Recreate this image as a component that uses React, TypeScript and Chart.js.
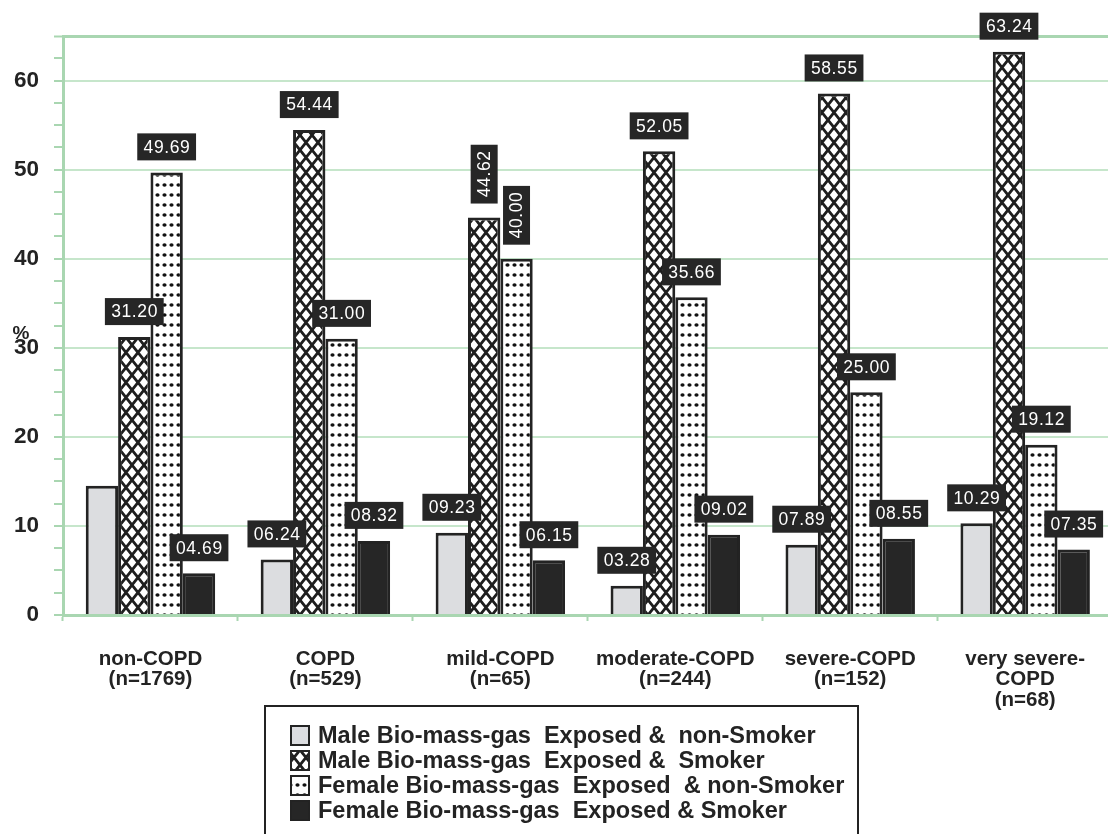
import React, { useEffect, useRef } from 'react';
import { Chart, registerables } from 'chart.js';

Chart.register(...registerables);

// ---------- data ----------
const categories: string[][] = [
  ['non-COPD', '(n=1769)'],
  ['COPD', '(n=529)'],
  ['mild-COPD', '(n=65)'],
  ['moderate-COPD', '(n=244)'],
  ['severe-COPD', '(n=152)'],
  ['very severe-', 'COPD', '(n=68)'],
];

const seriesNames = [
  'Male Bio-mass-gas  Exposed &  non-Smoker',
  'Male Bio-mass-gas  Exposed &  Smoker',
  'Female Bio-mass-gas  Exposed  & non-Smoker',
  'Female Bio-mass-gas  Exposed & Smoker',
];

const maleNonSmoker = [14.5, 6.24, 9.23, 3.28, 7.89, 10.29];
const maleSmoker = [31.2, 54.44, 44.62, 52.05, 58.55, 63.24];
const femaleNonSmoker = [49.69, 31.0, 40.0, 35.66, 25.0, 19.12];
const femaleSmoker = [4.69, 8.32, 6.15, 9.02, 8.55, 7.35];

const yMax = 65;
const yStep = 2.5;
const yLabelEvery = 10;

// [seriesIndex, categoryIndex]
const unlabeled: number[][] = [[0, 0]];
const rotatedLabels: number[][] = [[1, 2], [2, 2]];

// ---------- styles ----------
const FONT = '"Liberation Sans", Arial, sans-serif';
const axisGreen = '#a9d6b1';
const gridGreen = '#c6e6cb';
const ink = '#232323';

function makeCrossPattern(): CanvasPattern | string {
  const c = document.createElement('canvas');
  const w = 12, h = 15;
  c.width = w; c.height = h;
  const g = c.getContext('2d')!;
  g.fillStyle = '#ffffff';
  g.fillRect(0, 0, w, h);
  g.strokeStyle = '#1e1e1e';
  g.lineWidth = 2.8;
  g.beginPath();
  g.moveTo(-w, -h); g.lineTo(2 * w, 2 * h);
  g.moveTo(2 * w, -h); g.lineTo(-w, 2 * h);
  g.stroke();
  return g.createPattern(c, 'repeat') || '#fff';
}

function makeDotPattern(): CanvasPattern | string {
  const c = document.createElement('canvas');
  const w = 7, h = 10;
  c.width = w; c.height = h;
  const g = c.getContext('2d')!;
  g.fillStyle = '#ffffff';
  g.fillRect(0, 0, w, h);
  g.fillStyle = '#111111';
  g.beginPath();
  g.ellipse(3.5, 5, 2.1, 1.8, 0, 0, Math.PI * 2);
  g.fill();
  return g.createPattern(c, 'repeat') || '#fff';
}

function fmt(v: number): string {
  return v.toFixed(2).padStart(5, '0');
}

function has(list: number[][], s: number, c: number) {
  return list.some((p) => p[0] === s && p[1] === c);
}

export default function App() {
  const ref = useRef<HTMLCanvasElement | null>(null);

  useEffect(() => {
    if (!ref.current) return;
    const fills = ['#dcdde0', makeCrossPattern(), makeDotPattern(), '#262626'];
    const seriesValues = [maleNonSmoker, maleSmoker, femaleNonSmoker, femaleSmoker];

    const labelPlugin = {
      id: 'valueLabels',
      afterDatasetsDraw(chart: any) {
        const ctx = chart.ctx as CanvasRenderingContext2D;
        chart.data.datasets.forEach((ds: any, di: number) => {
          const meta = chart.getDatasetMeta(di);
          meta.data.forEach((bar: any, ci: number) => {
            if (has(unlabeled, di, ci)) return;
            const txt = fmt(ds.data[ci]);
            ctx.save();
            ctx.font = `17.5px ${FONT}`;
            (ctx as any).letterSpacing = '0.6px';
            const tw = ctx.measureText(txt).width;
            const bw = tw + 12;
            const bh = 27;
            const rotated = has(rotatedLabels, di, ci);
            const gap = rotated ? 14 : 12;
            ctx.fillStyle = '#262626';
            ctx.textAlign = 'center';
            ctx.textBaseline = 'middle';
            if (rotated) {
              const cy = bar.y - gap - bw / 2;
              ctx.translate(bar.x, cy);
              ctx.rotate(-Math.PI / 2);
              ctx.fillRect(-bw / 2, -bh / 2, bw, bh);
              ctx.fillStyle = '#ffffff';
              ctx.fillText(txt, 0.3, 1);
            } else {
              const y0 = bar.y - gap - bh;
              ctx.fillRect(bar.x - bw / 2, y0, bw, bh);
              ctx.fillStyle = '#ffffff';
              ctx.fillText(txt, bar.x + 0.3, y0 + bh / 2 + 1);
            }
            ctx.restore();
          });
        });
      },
    };

    const decorPlugin = {
      id: 'decor',
      afterDraw(chart: any) {
        const ctx = chart.ctx as CanvasRenderingContext2D;
        ctx.save();
        // y-axis title
        ctx.fillStyle = ink;
        ctx.font = `bold 19px ${FONT}`;
        ctx.textAlign = 'center';
        ctx.textBaseline = 'middle';
        ctx.fillText('%', 21, 334);

        // legend box
        const lx = 265, ly = 706, lw = 593, lh = 140;
        ctx.fillStyle = '#ffffff';
        ctx.fillRect(lx, ly, lw, lh);
        ctx.strokeStyle = ink;
        ctx.lineWidth = 2;
        ctx.strokeRect(lx, ly, lw, lh);
        ctx.font = `bold 23.5px ${FONT}`;
        ctx.textAlign = 'left';
        seriesNames.forEach((name, i) => {
          const cy = 736 + i * 25;
          ctx.fillStyle = fills[i] as any;
          ctx.fillRect(291, cy - 10, 18, 19);
          ctx.strokeStyle = ink;
          ctx.lineWidth = 2;
          ctx.strokeRect(291, cy - 10, 18, 19);
          ctx.fillStyle = ink;
          ctx.fillText(name, 318, cy + 1);
        });
        ctx.restore();
      },
    };

    const chart = new Chart(ref.current, {
      type: 'bar',
      data: {
        labels: categories,
        datasets: seriesValues.map((vals, i) => ({
          label: seriesNames[i],
          data: vals,
          backgroundColor: fills[i] as any,
          borderColor: ink,
          borderWidth: 3,
          borderSkipped: 'start',
          categoryPercentage: 0.74,
          barPercentage: 1,
        })),
      },
      options: {
        responsive: false,
        animation: false,
        layout: { padding: { top: 36, left: 0, right: 0, bottom: 0 } },
        plugins: {
          legend: { display: false },
          tooltip: { enabled: false },
        },
        scales: {
          x: {
            grid: {
              offset: true,
              drawOnChartArea: false,
              tickLength: 6,
              tickColor: axisGreen,
              tickWidth: 2,
              color: axisGreen,
            },
            border: { color: axisGreen, width: 3 },
            ticks: {
              color: ink,
              font: { family: FONT, weight: 'bold', size: 20.5, lineHeight: 1.0 },
              padding: 28,
              maxRotation: 0,
              autoSkip: false,
            },
            afterFit: (s: any) => { s.height = 219; },
          },
          y: {
            min: 0,
            max: yMax,
            ticks: {
              stepSize: yStep,
              maxTicksLimit: 100,
              autoSkip: false,
              color: ink,
              font: { family: FONT, weight: 'bold', size: 22.5 },
              padding: 15,
              callback: (v: any) => (Number(v) % yLabelEvery === 0 ? String(v) : ''),
            },
            grid: {
              color: (c: any) => {
                const v = c.tick ? c.tick.value : 0;
                if (v === yMax) return axisGreen;
                if (v > 0 && v % yLabelEvery === 0) return gridGreen;
                return 'rgba(0,0,0,0)';
              },
              lineWidth: (c: any) => (c.tick && c.tick.value === yMax ? 3 : 2),
              tickColor: axisGreen,
              tickLength: 9,
              tickWidth: 2,
            },
            border: { color: axisGreen, width: 3 },
            afterFit: (s: any) => { s.width = 63; },
          },
        },
      },
      plugins: [labelPlugin, decorPlugin],
    } as any);

    return () => chart.destroy();
  }, []);

  return (
    <div
      style={{
        position: 'fixed',
        left: 0,
        top: 0,
        width: 1108,
        height: 834,
        overflow: 'hidden',
        background: '#ffffff',
      }}
    >
      <canvas ref={ref} width={1113} height={834} style={{ display: 'block' }} />
    </div>
  );
}
